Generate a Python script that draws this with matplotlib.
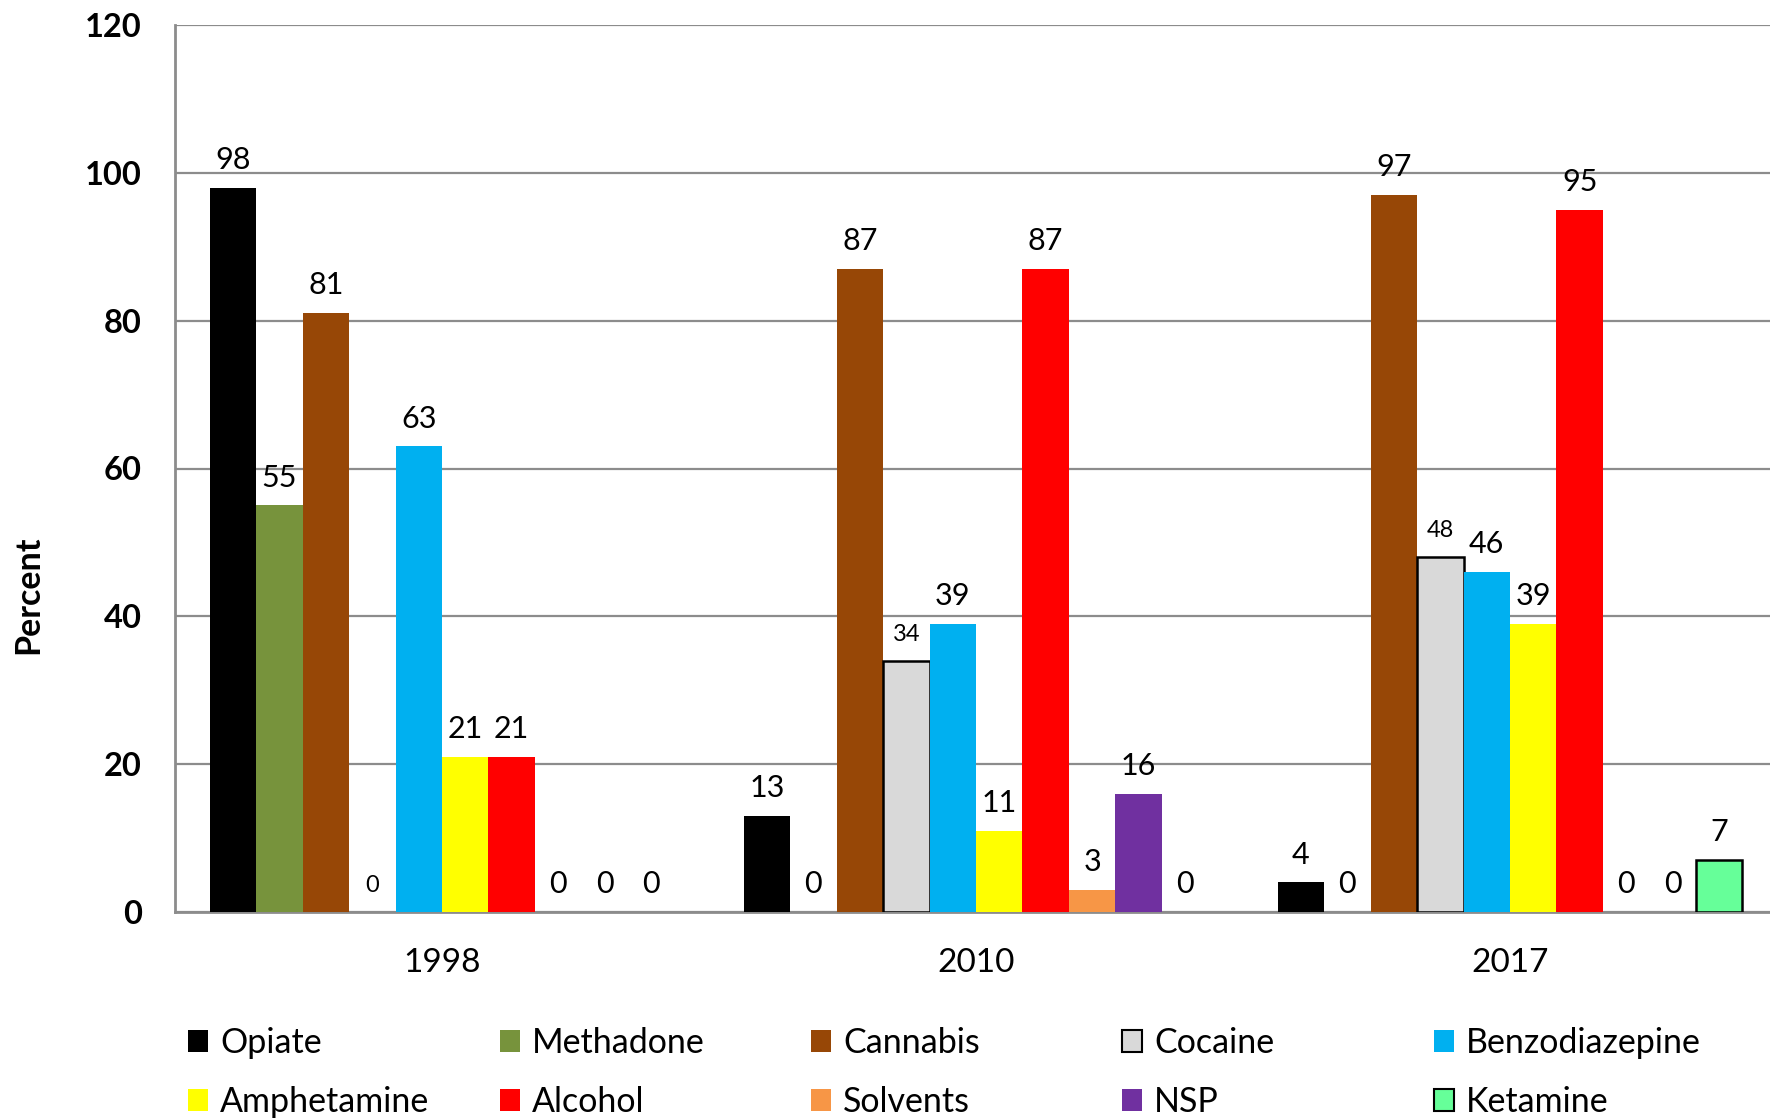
import matplotlib
matplotlib.use("Agg")
import matplotlib.pyplot as plt
from matplotlib.patches import Rectangle
import numpy as np

plt.rcParams['font.family'] = ['Lato', 'DejaVu Sans']

years = ["1998", "2010", "2017"]
substances = ["Opiate", "Methadone", "Cannabis", "Cocaine", "Benzodiazepine",
              "Amphetamine", "Alcohol", "Solvents", "NSP", "Ketamine"]

opiate = [98, 13, 4]
methadone = [55, 0, 0]
cannabis = [81, 87, 97]
cocaine = [0, 34, 48]
benzodiazepine = [63, 39, 46]
amphetamine = [21, 11, 39]
alcohol = [21, 87, 95]
solvents = [0, 3, 0]
nsp = [0, 16, 0]
ketamine = [0, 0, 7]

series = [opiate, methadone, cannabis, cocaine, benzodiazepine,
          amphetamine, alcohol, solvents, nsp, ketamine]

colors = ["#000000", "#77933C", "#974706", "#D9D9D9", "#00B0F0",
          "#FFFF00", "#FF0000", "#F79646", "#7030A0", "#66FF99"]
edges = [None, None, None, "#000000", None, None, None, None, None, "#000000"]
label_sizes = [22, 22, 22, 17, 22, 22, 22, 22, 22, 22]

W, H = 1770, 1118
fig = plt.figure(figsize=(W / 100, H / 100), dpi=100)
ax = fig.add_axes([175 / W, 1 - 912 / H, 1602 / W, (912 - 25) / H])

x = np.arange(len(years))
bw = 0.0870
n = len(series)
for i, (vals, c, ec, fs) in enumerate(zip(series, colors, edges, label_sizes)):
    pos = x + (i - (n - 1) / 2) * bw
    bars = ax.bar(pos, vals, width=bw, color=c,
                  edgecolor=ec if ec else c,
                  linewidth=1.8 if ec else 0.0, zorder=3, label=substances[i])
    for b, v in zip(bars, vals):
        if v == 0:
            b.set_linewidth(0)
        ax.annotate(f"{v}", (b.get_x() + b.get_width() / 2, v),
                    xytext=(0, 19 if fs < 20 else 20), textcoords="offset points",
                    ha="center", va="center", fontsize=fs, color="black")

ax.set_xlim(-0.5, 2.5)
ax.set_ylim(0, 120)
ax.set_yticks(range(0, 121, 20))
ax.set_xticks(x)
ax.set_xticklabels(years, fontsize=24)
for t in ax.get_yticklabels():
    t.set_fontsize(23.5)
    t.set_fontweight("bold")
ax.tick_params(axis="both", length=0)
ax.tick_params(axis="y", pad=24)
ax.tick_params(axis="x", pad=26)

ax.grid(axis="y", color="#8C8C8C", linewidth=1.6, zorder=0)
ax.set_axisbelow(True)
for s in ["top", "right"]:
    ax.spines[s].set_visible(False)
for s in ["left", "bottom"]:
    ax.spines[s].set_color("#8C8C8C")
    ax.spines[s].set_linewidth(2)

fig.text(28 / W, 1 - 595 / H, "Percent", rotation=90, ha="center", va="center",
         fontsize=24.5, fontweight="bold")

# Legend: five columns of two rows each, evenly spaced across the bottom
col_x = [188, 500, 811, 1122, 1434]
handles = [Rectangle((0, 0), 1, 1, facecolor=c, edgecolor=ec if ec else c,
                     linewidth=1.5 if ec else 0) for c, ec in zip(colors, edges)]
for col in range(5):
    idx = [col, col + 5]
    fig.legend([handles[k] for k in idx], [substances[k] for k in idx],
               loc="upper left", bbox_to_anchor=(col_x[col] / W, 1 - 1027 / H),
               frameon=False, fontsize=24.5, handlelength=0.6, handleheight=0.6,
               handletextpad=0.35, labelspacing=0.8, borderpad=0, borderaxespad=0)

fig.savefig("out.png", dpi=100)
